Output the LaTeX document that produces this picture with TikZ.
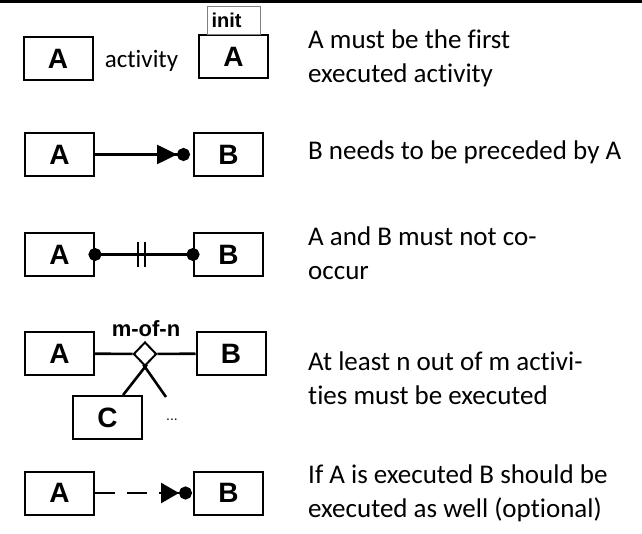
\documentclass[tikz,border=0pt]{standalone}
\usepackage{fontspec}
\setmainfont{Carlito}[Ligatures={NoCommon}]
\newfontfamily\arl{Liberation Sans}
\usetikzlibrary{arrows.meta,shapes.geometric,calc}
\begin{document}
\begin{tikzpicture}[x=1pt,y=-1pt,
  box/.style={draw, line width=2pt, minimum width=69pt, minimum height=43pt, inner sep=0pt,
    font=\arl\bfseries\fontsize{28}{30}\selectfont},
  conn/.style={line width=2.6pt},
  desc/.style={anchor=north west, inner sep=0pt, align=left, font=\fontsize{27}{34}\selectfont},
  prec/.style={-{Triangle[length=20pt,width=19pt]Circle[length=13pt]}},
]
\useasboundingbox (0,0) rectangle (642,534);
\fill (0,0) rectangle (642,3);

% row 1
\node[box] (a1) at (58,58.5) {A};
\node[font=\fontsize{25}{30}\selectfont, inner sep=0pt, anchor=base] (act) at (141.5,68) {activity};
\node[box] (a1i) at (233.5,56.5) {A};
\node[draw=gray, line width=1pt, anchor=south west, minimum height=28pt, text width=45pt,
  inner xsep=4pt, inner ysep=0pt, align=left, font=\arl\bfseries\fontsize{20}{22}\selectfont]
  (init) at (207,35) {init};

% row 2
\node[box] (a2) at (59.5,154.5) {A};
\node[box] (b2) at (228.5,154.5) {B};
\draw[conn, prec, shorten >=3pt] (a2) -- (b2);

% row 3
\node[box] (a3) at (59.5,254.5) {A};
\node[box] (b3) at (228.5,254.5) {B};
\draw[conn, {Circle[length=13pt]}-{Circle[length=13pt]}, shorten <=-6.5pt, shorten >=-6.5pt]
  (a3) -- (b3) coordinate[pos=0.475] (m3);
\draw[conn] ([xshift=-3.5pt,yshift=12.5pt]m3) -- ++(0,25);
\draw[conn] ([xshift=3.5pt,yshift=12.5pt]m3) -- ++(0,25);

% row 4
\node[box] (a4) at (59.5,353.5) {A};
\node[box] (b4) at (231,353.5) {B};
\node[diamond, draw, line width=2pt, minimum width=23pt, minimum height=24pt, inner sep=0pt] (d4) at (145,354) {};
\draw[conn] (a4) -- (d4);
\draw[conn] (d4) -- (b4);
\node[font=\arl\bfseries\fontsize{22}{24}\selectfont, anchor=base, inner sep=0pt] (mofn) at (146,337) {m-of-n};
\node[box] (c4) at (107.5,417.5) {C};
\coordinate (c4t) at ($(c4.north west)!0.72!(c4.north east)$);
\coordinate (e4) at (166,397);
\draw[conn, shorten >=-3pt] (c4t) -- (d4.south);
\draw[conn, shorten <=-3pt] (d4.south) -- (e4);
\node[font=\arl\fontsize{14}{16}\selectfont, inner sep=0pt] (more) at (172,420) {...};

% row 5
\node[box] (a5) at (59.5,493) {A};
\node[box] (b5) at (228.5,493) {B};
\draw[conn, dash pattern=on 20pt off 12pt, -{Triangle[length=18pt,width=20pt]Circle[length=13pt]}, shorten >=1pt] (a5) -- (b5);

% descriptions
\node[desc] (t1) at (308,24.2) {\strut A must be the first\\executed activity};
\node[desc] (t2) at (308,135.2) {\strut B needs to be preceded by A};
\node[desc] (t3) at (308,221.2) {\strut A and B must not co-\\occur};
\node[desc] (t4) at (308,346.2) {\strut At least n out of m activi-\\ties must be executed};
\node[desc] (t5) at (308,459.2) {\strut If A is executed B should be\\executed as well (optional)};
\end{tikzpicture}
\end{document}
